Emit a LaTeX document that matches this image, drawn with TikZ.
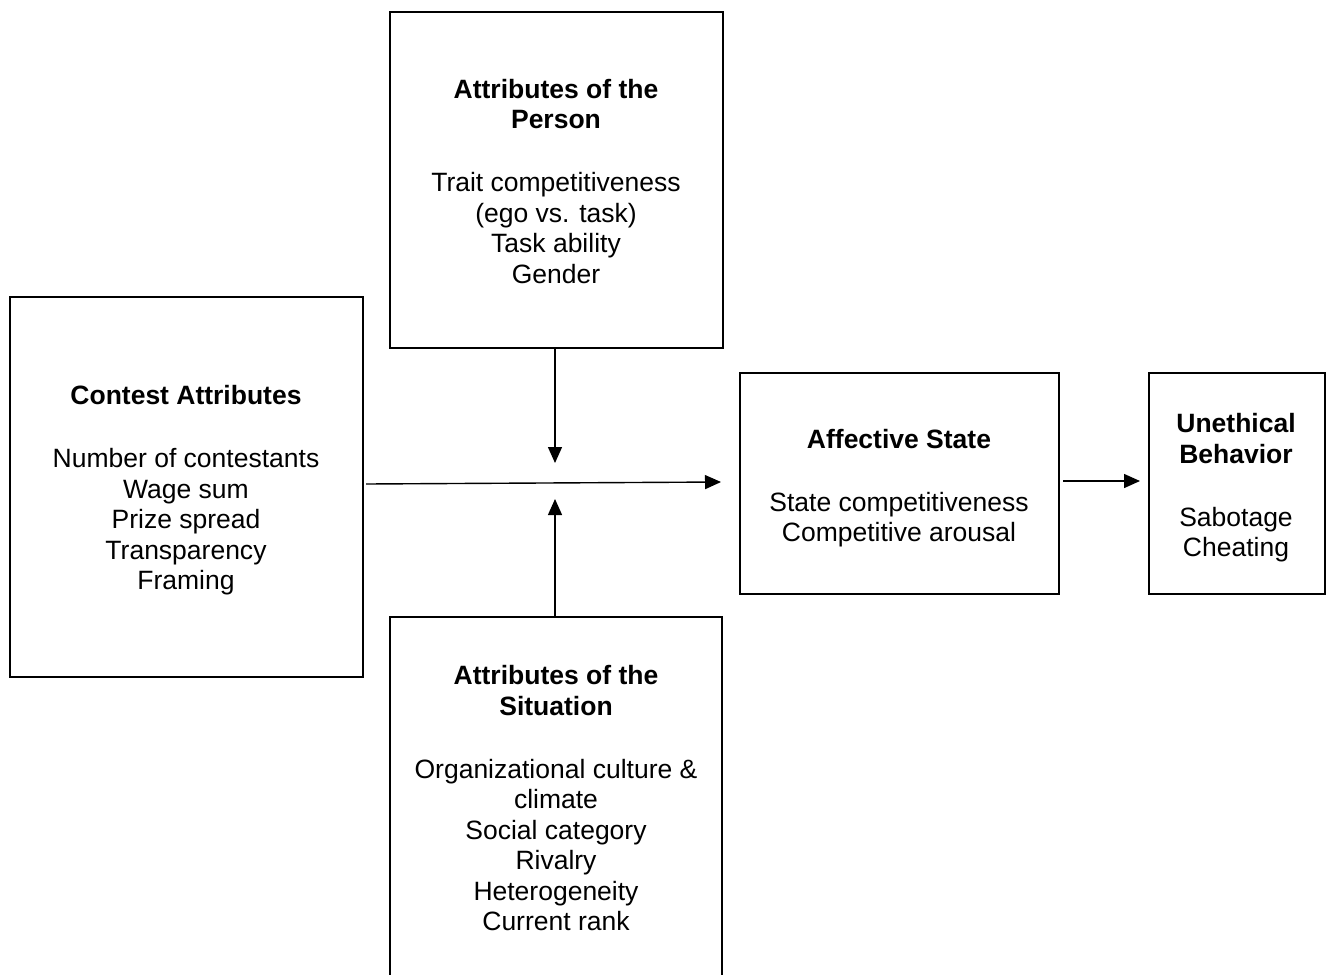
\documentclass[tikz,border=0pt]{standalone}
\usepackage{fontspec}
\setmainfont{Liberation Sans}
\usetikzlibrary{arrows.meta}
\begin{document}
\begin{tikzpicture}[x=1pt,y=-1pt,
  box/.style={draw,line width=1.4pt,inner sep=0pt},
  txt/.style={align=center,inner sep=0pt,font=\fontsize{26.5}{30.5}\selectfont},
  ttl/.style={txt,font=\fontsize{26.5}{30.5}\selectfont\bfseries},
  arr/.style={line width=1.4pt,-{Triangle[length=16pt,width=14pt]}}]
\useasboundingbox (0,0) rectangle (1329,974);
\begin{scope}
\clip (0,0) rectangle (1329,974);
\node[box,minimum width=353pt,minimum height=380pt] (contest) at (186.5,487) {};
\node[box,minimum width=333pt,minimum height=336pt] (person) at (556.5,180) {};
\node[box,minimum width=332pt,minimum height=400pt] (situation) at (556,817) {};
\node[box,minimum width=319pt,minimum height=221pt] (affect) at (899.5,483.5) {};
\node[box,minimum width=176pt,minimum height=221pt] (uneth) at (1237,483.5) {};
\end{scope}
\node[ttl] (t1) at (186,395) {Contest Attributes};
\node[txt] (b1) at (186,522) {Number of contestants\\Wage sum\\Prize spread\\Transparency\\Framing};
\node[ttl] (t2) at (556,104) {Attributes of the\\Person};
\node[txt] (b2) at (556,228) {Trait competitiveness\\(ego vs. task)\\Task ability\\Gender};
\node[ttl] (t3) at (556,690.5) {Attributes of the\\Situation};
\node[txt] (b3) at (556,845) {Organizational culture \&\\climate\\Social category\\Rivalry\\Heterogeneity\\Current rank};
\node[ttl] (t4) at (899,439) {Affective State};
\node[txt] (b4) at (899,519.5) {State competitiveness\\Competitive arousal};
\node[ttl] (t5) at (1236,438.5) {Unethical\\Behavior};
\node[txt] (b5) at (1236,534.5) {Sabotage\\Cheating};
\coordinate (c1) at (366,484);
\coordinate (c2) at (721,482);
\coordinate (d1) at (555,463);
\coordinate (u1) at (555,499);
\coordinate (e1) at (1063,481);
\coordinate (e2) at (1140,481);
\draw[arr] (c1) -- (c2);
\draw[arr] (person.south -| d1) -- (d1);
\draw[arr] (situation.north -| u1) -- (u1);
\draw[arr] (e1) -- (e2);
\end{tikzpicture}
\end{document}
